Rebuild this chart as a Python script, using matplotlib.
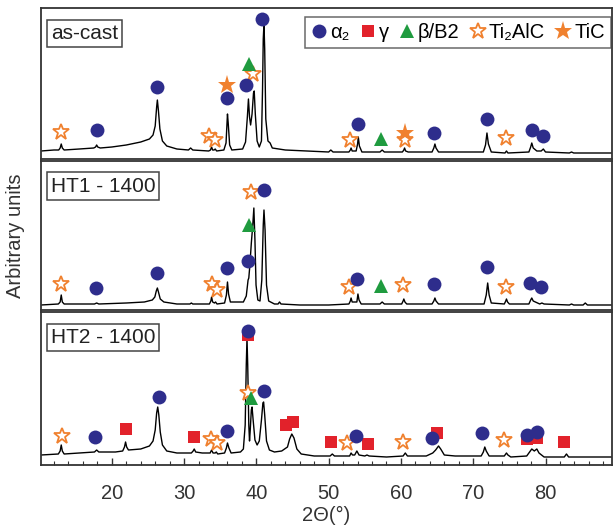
import matplotlib
matplotlib.use('Agg')
import matplotlib.pyplot as plt
from matplotlib.ticker import MultipleLocator
from matplotlib.lines import Line2D

plt.rcParams['font.family'] = ['Liberation Sans', 'DejaVu Sans']

# XRD traces: (2theta, intensity in arbitrary units)
as_cast_trace = [
    (10.2, 8), (12.0, 9), (12.65, 9), (12.85, 11), (13.0, 15), (13.15, 11), (13.4, 9),
    (15.5, 10), (17.5, 11), (17.75, 12), (17.9, 14), (18.05, 12), (18.4, 11),
    (20.0, 12), (22.0, 14), (24.0, 17), (25.2, 20), (25.7, 24), (26.0, 33), (26.2, 52),
    (26.3, 59), (26.45, 48), (26.65, 30), (27.0, 18), (27.6, 13),
    (29.0, 10), (30.6, 9), (30.9, 11), (31.2, 9),
    (33.4, 8), (33.65, 9), (33.8, 12), (33.95, 9), (34.15, 9), (34.3, 10), (34.5, 8),
    (35.5, 9), (35.8, 16), (35.95, 38), (36.0, 45), (36.1, 36), (36.3, 14), (36.6, 9),
    (38.1, 10), (38.5, 17), (38.75, 42), (38.9, 60), (39.05, 42), (39.2, 34), (39.4, 45),
    (39.6, 66), (39.7, 68), (39.85, 45), (40.1, 18), (40.4, 12),
    (40.7, 18), (40.85, 70), (40.95, 120), (41.05, 135), (41.15, 110), (41.3, 40),
    (41.6, 18), (41.9, 16), (42.2, 11),
    (44.0, 9), (47.0, 8), (50.0, 7), (50.3, 9), (50.6, 7), (52.8, 7), (53.0, 9),
    (53.1, 11), (53.25, 8), (53.8, 8), (54.0, 15), (54.1, 22), (54.25, 13), (54.6, 7),
    (57.1, 7), (57.4, 9), (57.7, 7), (60.2, 7), (60.4, 9), (60.5, 11), (60.65, 8),
    (61.0, 7), (64.3, 7), (64.55, 11), (64.7, 15), (64.85, 11), (65.2, 7),
    (71.4, 7), (71.7, 14), (71.9, 26), (72.1, 15), (72.5, 7), (74.4, 6), (74.6, 8),
    (74.8, 6), (77.7, 7), (77.95, 12), (78.1, 16), (78.3, 11), (78.8, 8), (79.4, 8),
    (79.7, 10), (80.0, 7), (83.3, 6), (83.6, 7), (83.9, 6), (86.0, 6), (89.2, 6),
]

ht1_trace = [
    (10.2, 5), (12.6, 6), (12.85, 8), (13.0, 15), (13.15, 8), (13.4, 6),
    (17.6, 6), (17.9, 7), (18.2, 6), (22.0, 7), (24.5, 8), (25.6, 10), (25.95, 13),
    (26.15, 19), (26.3, 22), (26.45, 18), (26.7, 11), (27.2, 8), (29.0, 6),
    (30.8, 6), (31.0, 7), (31.2, 6),
    (33.5, 6), (33.7, 9), (33.8, 13), (33.95, 8), (34.2, 7), (34.35, 8), (34.55, 6),
    (35.6, 7), (35.85, 15), (36.0, 28), (36.15, 16), (36.4, 8), (38.2, 8), (38.6, 14),
    (38.85, 30), (38.95, 32), (39.1, 45), (39.3, 67), (39.5, 85), (39.65, 102),
    (39.8, 70), (39.95, 25), (40.2, 10), (40.5, 9), (40.75, 30), (40.95, 85),
    (41.05, 100), (41.2, 80), (41.4, 25), (41.7, 9), (42.5, 6), (43.0, 6),
    (43.2, 8), (43.4, 6),
    (46.0, 5), (50.0, 5), (52.8, 6), (53.0, 9), (53.1, 12), (53.25, 8), (53.9, 8),
    (54.05, 16), (54.2, 10), (54.5, 6),
    (57.1, 6), (57.4, 8), (57.7, 6), (60.1, 6), (60.3, 9), (60.4, 11), (60.55, 8),
    (60.8, 6), (64.3, 6), (64.55, 9), (64.7, 12), (64.85, 9), (65.2, 6),
    (71.5, 6), (71.8, 15), (72.0, 27), (72.2, 15), (72.5, 7),
    (74.3, 6), (74.5, 9), (74.6, 11), (74.75, 8), (75.0, 6),
    (77.7, 6), (77.95, 10), (78.1, 12), (78.3, 9), (79.2, 6), (79.5, 7), (79.8, 6),
    (83.3, 5), (83.6, 6), (83.9, 5), (85.2, 5), (85.5, 7), (85.8, 5), (89.2, 5),
]

ht2_trace = [
    (10.2, 10), (12.6, 11), (12.85, 14), (13.0, 20), (13.15, 14), (13.4, 11),
    (15.5, 12), (17.6, 13), (17.9, 15), (18.2, 13), (20.5, 13), (21.5, 14),
    (21.75, 18), (21.9, 23), (22.05, 18), (22.3, 15), (24.0, 16), (25.2, 19),
    (25.7, 24), (26.0, 35), (26.2, 52), (26.35, 58), (26.5, 50), (26.7, 33),
    (27.0, 20), (27.6, 14), (29.0, 12), (31.0, 12), (31.25, 14), (31.4, 16),
    (31.6, 13), (32.5, 12),
    (33.6, 12), (33.8, 15), (34.0, 12), (34.3, 12), (34.45, 13), (34.65, 11),
    (35.6, 12), (35.85, 17), (36.0, 22), (36.2, 17), (36.5, 12), (37.8, 13),
    (38.2, 16), (38.45, 40), (38.6, 100), (38.7, 127), (38.8, 100), (38.95, 40),
    (39.05, 24), (39.15, 35), (39.3, 55), (39.4, 58), (39.55, 45), (39.8, 25),
    (40.1, 20), (40.4, 24), (40.7, 45), (40.9, 62), (41.0, 63), (41.15, 50),
    (41.4, 24), (41.8, 15), (42.5, 13), (43.5, 14), (43.9, 16), (44.3, 18),
    (44.6, 26), (44.9, 31), (45.2, 27), (45.6, 16), (46.2, 11),
    (48.0, 9), (50.2, 9), (50.5, 11), (50.8, 9), (52.9, 9), (53.1, 12), (53.3, 10),
    (53.6, 10), (53.9, 14), (54.2, 10), (55.0, 9), (55.3, 10), (55.6, 9), (58.0, 8),
    (60.3, 9), (60.6, 12), (60.9, 9), (63.5, 9), (64.4, 12), (64.8, 15), (65.2, 19),
    (65.5, 16), (66.0, 10), (67.5, 9), (71.1, 9), (71.4, 13), (71.6, 18), (71.8, 14),
    (72.2, 9), (74.3, 9), (74.5, 11), (74.6, 12), (74.8, 10), (75.2, 8), (77.4, 9),
    (77.8, 13), (78.1, 16), (78.45, 14), (78.8, 16), (79.1, 12), (79.8, 8),
    (82.6, 8), (82.9, 11), (83.2, 8), (85.0, 8), (89.2, 8),
]

# phase markers per panel: (2theta, height)
ac_alpha2 = [(17.9, 29), (26.2, 72), (35.9, 61), (38.5, 74), (40.8, 140),
             (54.1, 35), (64.6, 26), (71.9, 40), (78.1, 29), (79.7, 23)]
ac_beta = [(39.0, 95), (57.2, 20)]
ac_ti2alc = [(13.0, 27), (33.5, 23), (34.3, 19), (39.6, 85), (53.0, 19),
             (60.6, 19), (74.5, 21)]
ac_tic = [(35.9, 74), (60.6, 26)]

ht1_alpha2 = [(17.8, 22), (26.3, 37), (35.9, 42), (38.8, 49), (41.0, 120),
              (53.9, 31), (64.6, 26), (71.9, 43), (77.9, 27), (79.4, 23)]
ht1_beta = [(39.0, 85), (57.2, 24)]
ht1_ti2alc = [(13.0, 26), (33.8, 26), (34.6, 20), (39.3, 118), (52.8, 23),
              (60.3, 25), (74.6, 23)]

ht2_alpha2 = [(17.7, 28), (26.5, 68), (35.9, 34), (38.8, 134), (41.0, 74),
              (53.8, 29), (64.3, 27), (71.2, 32), (77.4, 30), (78.8, 33)]
ht2_gamma = [(21.9, 36), (31.3, 28), (38.8, 130), (44.1, 40), (45.0, 43),
             (50.3, 23), (55.4, 21), (65.0, 32), (77.5, 26), (78.8, 27), (82.6, 23)]
ht2_beta = [(39.2, 67)]
ht2_ti2alc = [(13.1, 29), (33.7, 26), (34.6, 22), (38.8, 72), (52.6, 22),
              (60.3, 23), (74.3, 25)]

panel_names = ['as-cast', 'HT1 - 1400', 'HT2 - 1400']
x_ticks = [20, 30, 40, 50, 60, 70, 80]

navy = '#2e2d8c'
red = '#e2222b'
green = '#1f9b3f'
orange = '#f0812f'

styles = {
    'alpha2': dict(marker='o', ms=10, color=navy, mew=0),
    'gamma': dict(marker='s', ms=8.8, color=red, mew=0),
    'beta': dict(marker='^', ms=10, color=green, mew=0),
    'ti2alc': dict(marker='*', ms=12, mfc='white', mec=orange, mew=1.3),
    'tic': dict(marker='*', ms=14, color=orange, mew=0),
}
order = ['ti2alc', 'gamma', 'alpha2', 'beta', 'tic']

panels = [
    (as_cast_trace, {'alpha2': ac_alpha2, 'beta': ac_beta, 'ti2alc': ac_ti2alc, 'tic': ac_tic}),
    (ht1_trace, {'alpha2': ht1_alpha2, 'beta': ht1_beta, 'ti2alc': ht1_ti2alc}),
    (ht2_trace, {'alpha2': ht2_alpha2, 'gamma': ht2_gamma, 'beta': ht2_beta, 'ti2alc': ht2_ti2alc}),
]

fig = plt.figure(figsize=(6.14, 5.30), dpi=100)
left, width = 41 / 614, 571 / 614
boxes = [(1 - 159 / 530, 151 / 530), (1 - 310 / 530, 149 / 530), (1 - 465 / 530, 153 / 530)]
axes = []
for (b, h) in boxes:
    axes.append(fig.add_axes([left, b, width, h]))

for i, ax in enumerate(axes):
    trace, marks = panels[i]
    xs = [p[0] for p in trace]
    ys = [p[1] for p in trace]
    ax.plot(xs, ys, color='black', lw=1.0, zorder=2)
    for key in order:
        if key in marks:
            ax.plot([p[0] for p in marks[key]], [p[1] for p in marks[key]],
                    ls='none', zorder=3, **styles[key])
    ax.set_xlim(10.2, 89.2)
    ax.set_ylim(0, boxes[i][1] * 530)
    ax.set_yticks([])
    for s in ax.spines.values():
        s.set_linewidth(1.3)
        s.set_color('#333333')
    ax.text(0.017, 0.895, panel_names[i], transform=ax.transAxes, ha='left', va='top',
            fontsize=15, color='#222222',
            bbox=dict(boxstyle='square,pad=0.2', fc='white', ec='#444444', lw=1.1))
    if i < 2:
        ax.set_xticks([])
    else:
        ax.set_xticks(x_ticks)
        ax.xaxis.set_minor_locator(MultipleLocator(2))
        ax.tick_params(axis='x', which='both', direction='in', labelsize=14.5,
                       colors='#333333', pad=14)
        ax.tick_params(axis='x', which='major', length=5, width=1)
        ax.tick_params(axis='x', which='minor', length=3, width=0.8)
        ax.set_xlabel('2Θ(°)', fontsize=14.5, color='#333333', labelpad=2)

handles = [
    Line2D([], [], ls='none', **styles['alpha2']),
    Line2D([], [], ls='none', **styles['gamma']),
    Line2D([], [], ls='none', **styles['beta']),
    Line2D([], [], ls='none', **styles['ti2alc']),
    Line2D([], [], ls='none', **styles['tic']),
]
labels = ['α₂', 'γ', 'β/B2', 'Ti₂AlC', 'TiC']
leg = axes[0].legend(handles, labels, ncol=5, loc='upper right',
                     bbox_to_anchor=(0.998, 0.94), fontsize=14.5, frameon=True,
                     fancybox=False, edgecolor='#444444', handlelength=0.8,
                     handletextpad=0.15, columnspacing=0.5, borderpad=0.3,
                     borderaxespad=0)
leg.get_frame().set_linewidth(1.1)

fig.text(0.026, 0.555, 'Arbitrary units', rotation=90, ha='center', va='center',
         fontsize=14.5, color='#333333')

fig.savefig('out.png', dpi=100)
